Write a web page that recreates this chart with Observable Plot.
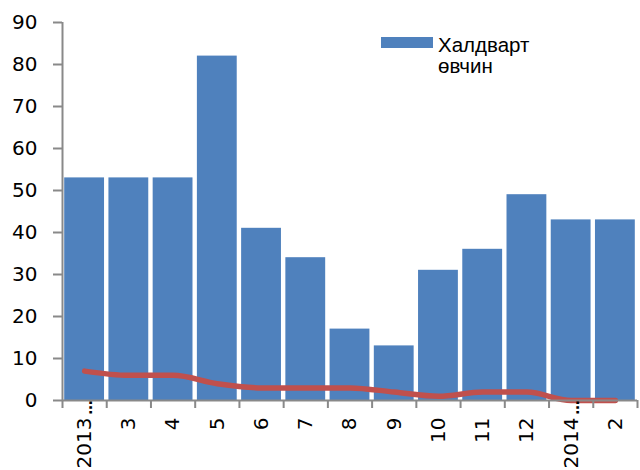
<!DOCTYPE html>
<html>
<head>
<meta charset="utf-8">
<script src="https://cdn.jsdelivr.net/npm/d3@7"></script>
<script src="https://cdn.jsdelivr.net/npm/@observablehq/plot@0.6"></script>
<style>
  html, body { margin: 0; padding: 0; background: #fff; }
  #chart { width: 640px; height: 470px; }
</style>
</head>
<body>
<div id="chart"></div>
<script>
// Categories (months) as printed on the x axis
const months = ["2013…", "3", "4", "5", "6", "7", "8", "9", "10", "11", "12", "2014…", "2"];
// Bar series: Халдварт өвчин
const infectious = [53, 53, 53, 82, 41, 34, 17, 13, 31, 36, 49, 43, 43];
// Red line series (unlabelled)
const secondSeries = [7, 6, 6, 4, 3, 3, 3, 2, 1, 2, 2, 0, 0];
// Y tick values
const yTicks = [0, 10, 20, 30, 40, 50, 60, 70, 80, 90];
const legendLabel = ["Халдварт", "өвчин"];

const data = months.map((m, i) => ({i, month: m, bar: infectious[i], line: secondSeries[i]}));
const truncated = data.filter(d => d.month.endsWith("…"));
const axisGray = "#898989";

const plot = Plot.plot({
  width: 640,
  height: 470,
  marginTop: 22,
  marginBottom: 70,
  marginLeft: 62,
  marginRight: 3,
  style: {fontFamily: "DejaVu Sans", fontSize: "20px", color: "#000", background: "#fff"},
  x: {type: "linear", domain: [0, months.length], axis: null},
  y: {domain: [0, 90], axis: null},
  marks: [
    Plot.rectY(data, {x1: d => d.i, x2: d => d.i + 1, y: "bar", fill: "#4F81BD", insetLeft: 2.2, insetRight: 2.2}),
    Plot.line(data, {x: d => d.i + 0.5, y: "line", curve: "monotone-x", stroke: "#C0504D", strokeWidth: 5.5, strokeLinecap: "round", strokeLinejoin: "round"}),
    // axis lines
    Plot.ruleX([0], {y1: 0, y2: 90, stroke: axisGray, strokeWidth: 2}),
    Plot.ruleY([0], {x1: 0, x2: months.length, stroke: axisGray, strokeWidth: 2}),
    // y axis ticks and labels
    Plot.axisY({ticks: yTicks, tickSize: 9, tickPadding: 16, stroke: axisGray, strokeWidth: 2, fontSize: 20, tickFormat: d => d}),
    // x tick marks at category boundaries
    Plot.axisX({ticks: d3.range(months.length + 1), tickSize: 8, tickFormat: () => "", stroke: axisGray, strokeWidth: 2}),
    // x labels at category centres
    Plot.axisX({ticks: d3.range(months.length).map(i => i + 0.5), tickSize: 0, tickPadding: 17, tickRotate: -90, fontSize: 20,
      tickFormat: t => months[Math.floor(t)].replace("…", "")}),
    // ellipsis of truncated labels
    Plot.text(truncated, {x: d => d.i + 0.5, y: 0, text: () => "…", rotate: -90, textAnchor: "end", fontSize: 14, fontWeight: "bold", dx: 3, dy: 0, fill: "#000"})
  ]
});

document.getElementById("chart").appendChild(plot);

// Legend inside the plot area
const svg = d3.select(plot);
const lg = svg.append("g")
  .attr("font-family", "Liberation Sans, Arial, sans-serif")
  .attr("font-size", 20.5)
  .attr("text-anchor", "start");
lg.append("rect").attr("x", 381).attr("y", 37).attr("width", 52).attr("height", 11).attr("fill", "#4F81BD");
lg.selectAll("text").data(legendLabel).join("text")
  .attr("x", 438).attr("y", (d, k) => 51.5 + k * 21.5).attr("fill", "#000")
  .style("font-size", "20.5px").style("font-family", "Liberation Sans, Arial, sans-serif")
  .text(d => d);
</script>
</body>
</html>
